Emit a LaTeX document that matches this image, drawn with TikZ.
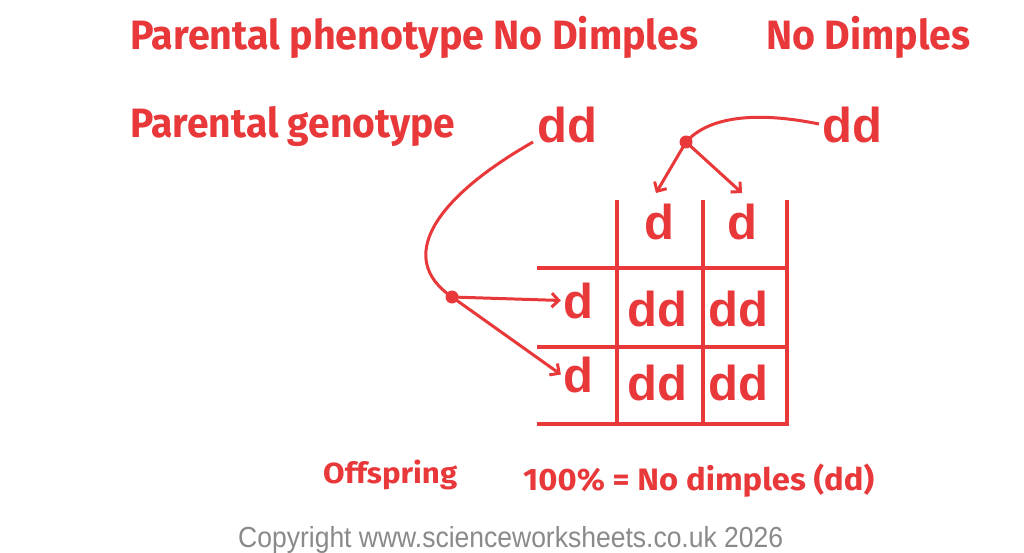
\documentclass[tikz,border=0pt]{standalone}
\usepackage{fontspec}
\setmainfont{Fira Sans}
\newfontfamily\gridfont{Liberation Sans}
\newfontfamily\copyfont{Liberation Sans}
\usetikzlibrary{arrows.meta}
\definecolor{rd}{RGB}{232,56,58}
\definecolor{gr}{RGB}{138,138,138}
\newcommand{\fitw}[2]{\resizebox{#1}{\height}{#2}}
\begin{document}
\begin{tikzpicture}[x=1pt,y=-1pt,
  title/.style={anchor=base west,inner sep=0pt,text=rd,font=\fontsize{41}{41}\selectfont\bfseries},
  small/.style={anchor=base west,inner sep=0pt,text=rd,font=\fontsize{31}{31}\selectfont\bfseries},
  allele/.style={anchor=base,inner sep=0pt,text=rd,font=\gridfont\fontsize{49}{49}\selectfont\bfseries},
  gridline/.style={draw=rd,line width=4pt},
  conn/.style={draw=rd,line width=3pt},
  arr/.style={draw=rd,line width=3pt,-{Straight Barb[length=7pt,width=14pt,line width=3pt]}},
  dot/.style={fill=rd}]
\useasboundingbox[fill=white] (0,0) rectangle (1024,553);
% titles
\node[title] (phen) at (130,50) {\fitw{568pt}{Parental phenotype No Dimples}};
\node[title] (phen2) at (766,50) {\fitw{204pt}{No Dimples}};
\node[title] (gen) at (130,138) {\fitw{325pt}{Parental genotype}};
\node[small,font=\fontsize{29}{29}\selectfont\bfseries] (off) at (323,483) {\fitw{134pt}{Offspring}};
\node[small] (res) at (523,490) {\fitw{351pt}{100\% = No dimples (dd)}};
\node[anchor=base west,inner sep=0pt,text=gr,font=\copyfont\fontsize{29}{29}\selectfont] (copy) at (238,547) {\fitw{545pt}{Copyright www.scienceworksheets.co.uk 2026}};
% parental genotypes
\node[allele,anchor=base west] (ddL) at (537,143) {dd};
\node[allele,anchor=base west] (ddR) at (822,143) {dd};
% grid
\draw[gridline] (617,200) -- (617,425);
\draw[gridline] (703,200) -- (703,425);
\draw[gridline] (787,200) -- (787,425);
\draw[gridline] (537,268) -- (787,268);
\draw[gridline] (537,347) -- (787,347);
\draw[gridline] (537,424) -- (789,424);
% alleles
\node[allele] (c1) at (659,240) {d};
\node[allele] (c2) at (742,240) {d};
\node[allele] (r1) at (578,318) {d};
\node[allele] (r2) at (578,392) {d};
\node[allele] (o11) at (657,326) {dd};
\node[allele] (o12) at (738,326) {dd};
\node[allele] (o21) at (657,400) {dd};
\node[allele] (o22) at (738,400) {dd};
% connectors
\coordinate (dotL) at (452,297);
\coordinate (dotR) at (686,142);
\coordinate (t1) at (656,193);
\coordinate (t2) at (742,193);
\draw[conn] ([shift={(-4,-1)}]ddL.base west) .. controls (435,198) and (395,258) .. (dotL);
\draw[conn] ([shift={(-3,-19)}]ddR.base west) .. controls (760,112) and (710,115) .. (dotR);
\draw[arr] (dotL) -- ([shift={(-2,0)}]r1.west);
\draw[arr] (dotL) -- ([shift={(-2,0)}]r2.west);
\draw[arr] (dotR) -- (t1);
\draw[arr] (dotR) -- (t2);
\fill[dot] (dotL) circle (6.5);
\fill[dot] (dotR) circle (6.5);
\end{tikzpicture}
\end{document}
